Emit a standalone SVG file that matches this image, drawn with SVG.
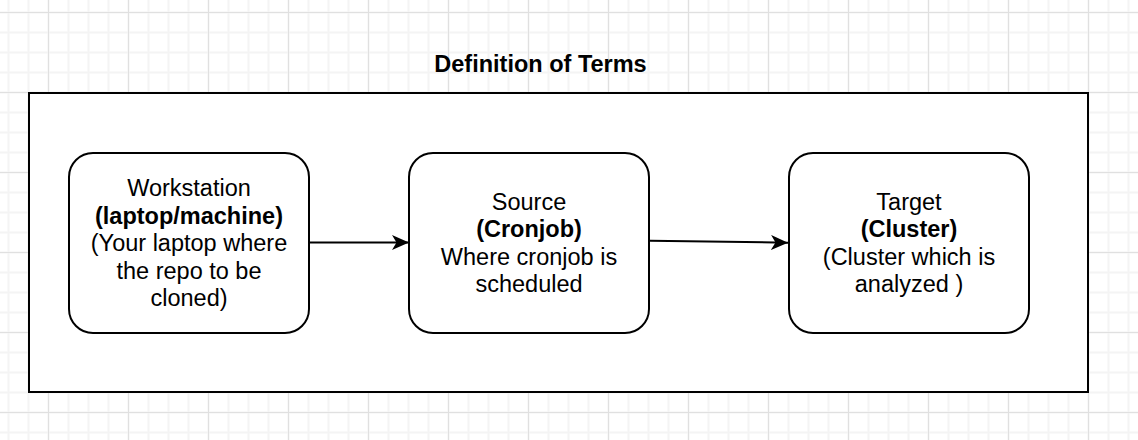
<svg xmlns="http://www.w3.org/2000/svg" width="1138" height="440" viewBox="0 0 1138 440">
  <style>
    .node { fill: #ffffff; stroke: #000000; stroke-width: 2; }
    .txt { font-family: "Liberation Sans", Arial, Helvetica, sans-serif; font-size: 23.5px; fill: #000000; text-anchor: middle; }
    .b { font-weight: bold; }
    .edge { stroke: #000000; stroke-width: 2; fill: none; }
  </style>
  <defs>
    <pattern id="minor" patternUnits="userSpaceOnUse" x="0" y="0" width="20" height="20">
      <rect x="7.5" y="0" width="2" height="20" fill="#f4f4f4"/>
      <rect x="0" y="11.5" width="20" height="2" fill="#f4f4f4"/>
    </pattern>
    <pattern id="major" patternUnits="userSpaceOnUse" x="0" y="0" width="80" height="80">
      <rect x="48" y="0" width="1" height="80" fill="#e0e0e0"/>
      <rect x="0" y="12" width="80" height="1" fill="#e0e0e0"/>
    </pattern>
    <marker id="arrow" markerUnits="userSpaceOnUse" markerWidth="18" markerHeight="16" refX="17" refY="7.5" orient="auto">
      <path d="M0,0 L17,7.5 L0,15 L4.5,7.5 Z" fill="#000000"/>
    </marker>
  </defs>

  <rect x="0" y="0" width="1138" height="440" fill="#ffffff"/>
  <rect x="0" y="0" width="1138" height="440" fill="url(#minor)"/>
  <rect x="0" y="0" width="1138" height="440" fill="url(#major)"/>

  <g id="title">
    <text class="txt b" x="540.5" y="71.5">Definition of Terms</text>
  </g>

  <g id="container">
    <rect x="29" y="93" width="1059" height="299" fill="#ffffff" stroke="#000000" stroke-width="2"/>
  </g>

  <g id="connectors">
    <line class="edge" x1="310" y1="242.5" x2="409" y2="242.5" marker-end="url(#arrow)"/>
    <line class="edge" x1="650" y1="240.7" x2="788" y2="242.7" marker-end="url(#arrow)"/>
  </g>

  <g id="workstation">
    <rect class="node" x="69" y="153" width="240" height="180" rx="24" ry="24"/>
    <text class="txt" x="189" y="196">Workstation</text>
    <text class="txt b" x="189" y="223.5">(laptop/machine)</text>
    <text class="txt" x="189" y="251">(Your laptop where</text>
    <text class="txt" x="189" y="278.5">the repo to be</text>
    <text class="txt" x="189" y="306">cloned)</text>
  </g>

  <g id="source">
    <rect class="node" x="409" y="153" width="240" height="180" rx="24" ry="24"/>
    <text class="txt" x="529" y="209.5">Source</text>
    <text class="txt b" x="529" y="237">(Cronjob)</text>
    <text class="txt" x="529" y="264.5">Where cronjob is</text>
    <text class="txt" x="529" y="292">scheduled</text>
  </g>

  <g id="target">
    <rect class="node" x="789" y="153" width="240" height="180" rx="24" ry="24"/>
    <text class="txt" x="909" y="209.5">Target</text>
    <text class="txt b" x="909" y="237">(Cluster)</text>
    <text class="txt" x="909" y="264.5">(Cluster which is</text>
    <text class="txt" x="909" y="292">analyzed )</text>
  </g>
</svg>
